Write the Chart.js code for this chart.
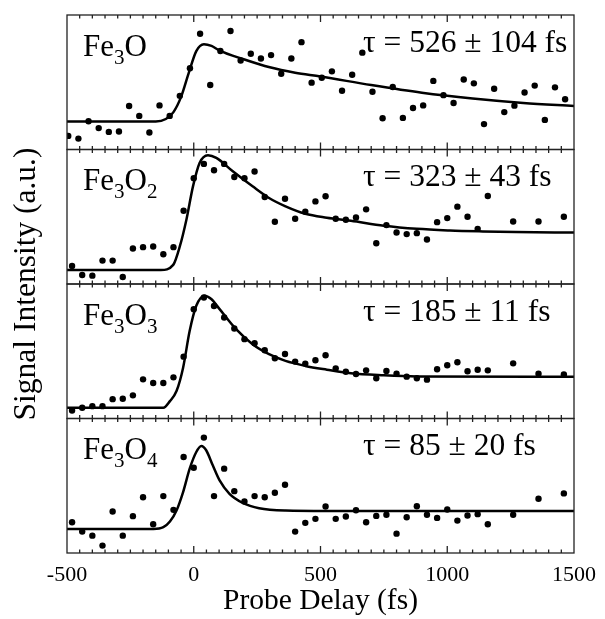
<!DOCTYPE html>
<html>
<head>
<meta charset="utf-8">
<script src="https://cdn.jsdelivr.net/npm/chart.js@4.4.1/dist/chart.umd.min.js"></script>
<style>
  html, body { margin: 0; padding: 0; background: #fff; }
  canvas { display: block; }
</style>
</head>
<body>
<canvas id="kinetics" width="605" height="619"></canvas>
<script>
// probe delays (fs)
const delayFe3O = [-495, -455, -415, -375, -335, -295, -255, -215, -175, -135, -95, -55, -15,
  25, 65, 105, 145, 185, 225, 265, 305, 345, 385, 425, 465, 505,
  545, 585, 625, 665, 705, 745, 785, 825, 865, 905, 945, 985, 1025, 1065, 1105, 1145,
  1185, 1225, 1265, 1305, 1345, 1385, 1425, 1465]
const delayOther = [-480, -440, -400, -360, -320, -280, -240, -200, -160, -120, -80, -40, 0,
  40, 80, 120, 160, 200, 240, 280, 320, 360, 400, 440, 480, 520,
  560, 600, 640, 680, 720, 760, 800, 840, 880, 920, 960, 1000, 1040, 1080, 1120, 1160,
  1260, 1360, 1460]

// measured ion signal, arbitrary units (0 = bottom of panel, 100 = top)
const sigFe3O = [10.1, 8.1, 21.0, 15.9, 13.1, 13.4, 32.3, 25.0, 12.6, 32.8, 25.0, 39.9, 60.4,
  86.1, 48.0, 73.2, 88.1, 66.2, 71.2, 67.7, 70.2, 56.3, 67.7, 79.8, 49.7, 53.3,
  58.1, 43.7, 55.6, 72.0, 42.9, 23.2, 46.5, 23.5, 30.8, 32.8, 51.0, 40.4, 34.6, 52.0, 49.2, 18.9,
  45.2, 27.8, 32.6, 42.4, 47.5, 22.0, 46.2, 37.4]
const sigFe3O2 = [13.4, 6.7, 6.2, 17.4, 17.4, 5.2, 26.4, 27.4, 27.9, 22.1, 27.4, 54.5, 78.6,
  89.3, 84.6, 89.3, 79.6, 78.6, 83.6, 64.7, 46.3, 63.4, 48.5, 53.7, 61.4, 65.2,
  48.5, 47.8, 49.5, 55.5, 30.3, 43.8, 38.3, 37.1, 37.8, 33.1, 46.0, 49.0, 57.5, 50.0, 41.0, 65.4,
  46.5, 46.5, 50.0]
const sigFe3O3 = [6.0, 8.0, 9.2, 9.2, 14.4, 14.7, 17.2, 29.1, 26.4, 26.4, 30.6, 46.0, 81.3,
  90.0, 83.6, 75.1, 66.9, 59.0, 56.0, 50.7, 44.8, 48.0, 42.3, 40.8, 43.3, 47.0,
  37.3, 34.8, 33.1, 35.8, 29.9, 35.3, 33.3, 31.1, 29.9, 28.9, 36.6, 39.6, 41.8, 35.1, 36.3, 35.8,
  41.0, 33.3, 32.8]
const sigFe3O4 = [22.9, 15.9, 12.9, 5.5, 30.8, 12.9, 27.4, 41.5, 21.4, 42.3, 32.1, 71.4, 63.4,
  85.8, 42.3, 62.7, 46.0, 38.3, 42.3, 41.5, 44.8, 50.7, 15.9, 22.4, 25.4, 34.6,
  25.4, 27.1, 31.8, 22.9, 27.6, 28.4, 14.4, 26.6, 34.8, 28.4, 26.1, 32.3, 24.1, 27.9, 28.9, 21.4,
  28.4, 40.3, 44.3]

// fitted curves (rise + single exponential decay), sampled
const fitTFe3O = [-500, -150, -110, -80, -50, -20, 10, 40, 70, 100, 200, 300, 400, 500, 700, 900, 1100, 1300, 1500]
const fitFe3O = [20.8, 20.8, 22.7, 27.8, 39.1, 56.8, 73.2, 78.3, 77.0, 73.7, 66.9, 61.1, 57.1, 54.3, 47.9, 42.2, 37.9, 34.6, 32.3]
const fitTFe3O2 = [-500, -130, -81, -55, -29, -3, 23, 56, 89, 154, 232, 297, 362, 440, 525, 620, 750, 880, 1010, 1140, 1270, 1500]
const fitFe3O2 = [10.4, 10.4, 14.2, 27.9, 47.8, 72.6, 90.0, 95.8, 93.8, 83.8, 72.6, 63.9, 57.7, 52.2, 49.3, 47.0, 43.3, 41.0, 39.8, 39.1, 38.6, 38.3]
const fitTFe3O3 = [-500, -120, -94, -68, -42, -16, 10, 43, 69, 102, 167, 232, 297, 362, 440, 525, 620, 750, 880, 1500]
const fitFe3O3 = [8.0, 8.0, 12.9, 20.4, 37.8, 65.2, 83.8, 91.3, 88.8, 81.3, 66.4, 55.2, 47.8, 42.8, 39.1, 36.3, 33.6, 32.1, 31.3, 31.1]
const fitTFe3O4 = [-500, -159, -120, -94, -68, -42, -16, 10, 30, 49, 75, 102, 141, 193, 258, 362, 525, 1500]
const fitFe3O4 = [17.9, 17.9, 19.2, 23.4, 31.6, 45.3, 62.7, 75.1, 79.6, 76.4, 65.2, 54.0, 44.0, 37.3, 33.3, 31.6, 31.3, 31.3]

// cluster labels: [element, subscript, element, subscript]
const clusters = [['Fe', '3', 'O', ''], ['Fe', '3', 'O', '2'], ['Fe', '3', 'O', '3'], ['Fe', '3', 'O', '4']]
const tau = [526, 323, 185, 85]
const tauErr = [104, 43, 11, 20]
const xTicks = [-500, 0, 500, 1000, 1500]

const SERIF = '"Liberation Serif", "Times New Roman", serif'
const panelIds = ['p0', 'p1', 'p2', 'p3']

const panels = [
  { t: delayFe3O, s: sigFe3O, ft: fitTFe3O, f: fitFe3O },
  { t: delayOther, s: sigFe3O2, ft: fitTFe3O2, f: fitFe3O2 },
  { t: delayOther, s: sigFe3O3, ft: fitTFe3O3, f: fitFe3O3 },
  { t: delayOther, s: sigFe3O4, ft: fitTFe3O4, f: fitFe3O4 },
]

const datasets = []
panels.forEach((p, i) => {
  datasets.push({
    data: p.t.map((t, j) => ({ x: t, y: p.s[j] })),
    yAxisID: panelIds[i],
    showLine: false,
    pointRadius: 3.2,
    pointBackgroundColor: '#000',
    pointBorderWidth: 0,
  })
  datasets.push({
    data: p.ft.map((t, j) => ({ x: t, y: p.f[j] })),
    yAxisID: panelIds[i],
    borderColor: '#000',
    borderWidth: 2.5,
    pointRadius: 0,
    cubicInterpolationMode: 'monotone',
    fill: false,
  })
})

const yScales = {}
panelIds.forEach((id, i) => {
  yScales[id] = {
    type: 'linear', min: 0, max: 100,
    position: 'left', stack: 'panels', stackWeight: 1, weight: 4 - i,
    display: false,
  }
})

// frames, inward ticks and text inside each panel
const panelDecor = {
  id: 'panelDecor',
  afterDraw(chart) {
    const { ctx, scales } = chart
    const x = scales.x
    ctx.save()
    ctx.strokeStyle = '#222'
    ctx.lineWidth = 1.3
    panelIds.forEach((id, i) => {
      const y = scales[id]
      const top = y.getPixelForValue(100)
      const bottom = y.getPixelForValue(0)
      ctx.strokeRect(x.left, top, x.right - x.left, bottom - top)
      ctx.beginPath()
      for (let t = -450; t < 1500; t += 50) {
        const px = x.getPixelForValue(t)
        const len = t % 500 === 0 ? 7 : 3.5
        ctx.moveTo(px, top); ctx.lineTo(px, top + len)
        ctx.moveTo(px, bottom); ctx.lineTo(px, bottom - len)
      }
      ctx.stroke()

      // cluster name with subscripts
      ctx.fillStyle = '#000'
      ctx.textBaseline = 'alphabetic'
      ctx.textAlign = 'left'
      let cx = 83
      const base = top + 40.5
      clusters[i].forEach((part, k) => {
        if (!part) return
        if (k % 2) {
          ctx.font = '21px ' + SERIF
          ctx.fillText(part, cx, base + 8)
        } else {
          ctx.font = '31px ' + SERIF
          ctx.fillText(part, cx, base)
        }
        cx += ctx.measureText(part).width
      })

      ctx.font = '31.5px ' + SERIF
      ctx.fillText('τ = ' + tau[i] + ' ± ' + tauErr[i] + ' fs', 363, top + 36.5)
    })

    ctx.font = '31.5px ' + SERIF
    ctx.translate(35, (scales.p0.top + scales.p3.bottom) / 2)
    ctx.rotate(-Math.PI / 2)
    ctx.textAlign = 'center'
    ctx.fillText('Signal Intensity (a.u.)', 0, 0)
    ctx.restore()
  }
}

new Chart(document.getElementById('kinetics'), {
  type: 'line',
  data: { datasets },
  options: {
    responsive: false,
    animation: false,
    devicePixelRatio: 1,
    layout: { padding: { left: 67, right: 27, top: 15, bottom: 0 } },
    plugins: { legend: { display: false }, tooltip: { enabled: false } },
    scales: {
      x: {
        type: 'linear', position: 'bottom', min: -500, max: 1500,
        afterBuildTicks(scale) { scale.ticks = xTicks.map(v => ({ value: v })) },
        afterFit(scale) { scale.height = 66 },
        grid: { display: false, drawTicks: false },
        border: { display: false },
        ticks: {
          color: '#000', font: { family: SERIF, size: 22 }, padding: 9, maxRotation: 0, autoSkip: false,
          callback: v => String(v)
        },
        title: {
          display: true, text: 'Probe Delay (fs)', color: '#000',
          font: { family: SERIF, size: 29.5 }, padding: { top: 0, bottom: 0 }
        }
      },
      ...yScales
    }
  },
  plugins: [panelDecor]
})
</script>
</body>
</html>
